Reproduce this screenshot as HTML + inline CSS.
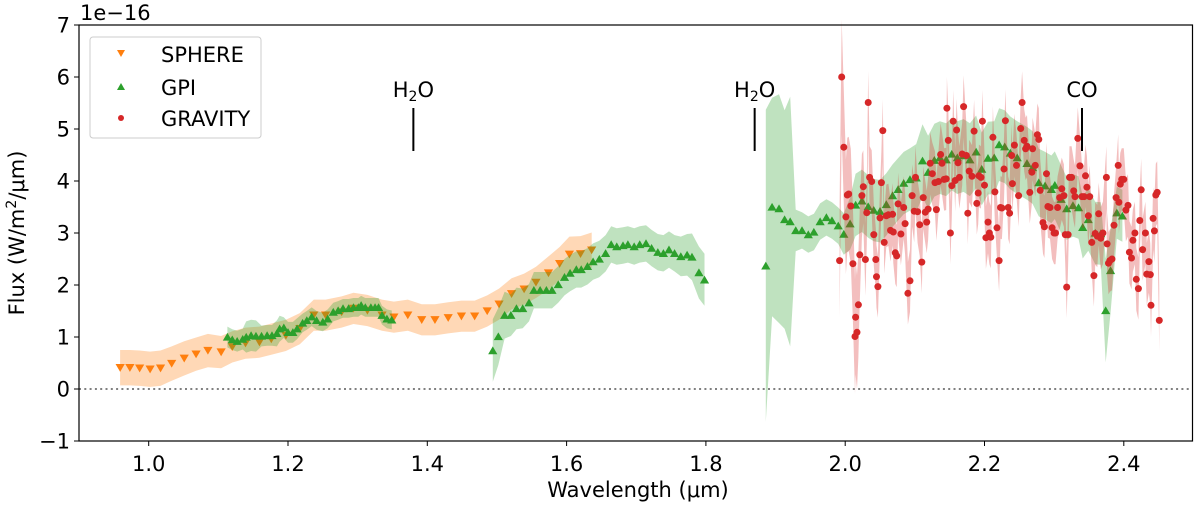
<!DOCTYPE html>
<html><head><meta charset="utf-8">
<style>
html,body{margin:0;padding:0;background:#fff;}
svg{display:block;font-family:"DejaVu Sans","Liberation Sans",sans-serif;}
</style></head>
<body>
<svg id="chart" width="1200" height="505" viewBox="0 0 1200 505" xmlns="http://www.w3.org/2000/svg">
<g id="fills"></g>
<g id="marks"></g>
<g id="axes"></g>
</svg>
<script>
// ---- data ----
const sphereWave=[0.959,0.973,0.987,1.002,1.017,1.033,1.051,1.068,1.085,1.104,1.120,1.139,1.159,1.176,1.197,1.217,1.237,1.254,1.277,1.294,1.314,1.335,1.352,1.372,1.392,1.411,1.430,1.449,1.468,1.486,1.503,1.521,1.539,1.556,1.574,1.590,1.604,1.620,1.636];
const sphereFlux=[0.41,0.41,0.40,0.38,0.40,0.49,0.59,0.67,0.74,0.71,0.81,0.88,0.90,0.96,1.03,1.16,1.42,1.42,1.48,1.55,1.51,1.42,1.38,1.42,1.33,1.33,1.37,1.40,1.40,1.50,1.63,1.83,1.92,2.05,2.23,2.41,2.59,2.60,2.67];
const sphereErr=[0.34,0.34,0.34,0.34,0.34,0.33,0.33,0.32,0.32,0.31,0.3,0.3,0.3,0.3,0.3,0.3,0.3,0.3,0.3,0.3,0.3,0.3,0.3,0.3,0.3,0.3,0.3,0.3,0.3,0.3,0.3,0.3,0.3,0.3,0.32,0.32,0.34,0.34,0.34];

const gpiJWave=[1.113,1.120,1.127,1.135,1.140,1.147,1.154,1.162,1.170,1.177,1.184,1.188,1.194,1.200,1.207,1.213,1.221,1.227,1.234,1.241,1.250,1.257,1.265,1.272,1.279,1.287,1.294,1.301,1.305,1.311,1.319,1.325,1.330,1.335,1.342,1.349];
const gpiJFlux=[1.00,0.95,0.92,0.96,1.00,1.03,1.02,1.02,1.03,1.03,1.07,1.16,1.18,1.09,1.09,1.16,1.27,1.32,1.39,1.32,1.29,1.35,1.48,1.51,1.55,1.55,1.57,1.57,1.61,1.57,1.57,1.57,1.57,1.42,1.35,1.33];
const gpiJErr=[0.2,0.2,0.2,0.2,0.3,0.3,0.3,0.2,0.2,0.2,0.25,0.25,0.2,0.2,0.2,0.2,0.18,0.18,0.18,0.18,0.18,0.18,0.18,0.18,0.18,0.18,0.18,0.18,0.18,0.18,0.18,0.18,0.18,0.18,0.18,0.18];

const gpiHWave=[1.494,1.502,1.511,1.520,1.528,1.537,1.546,1.553,1.562,1.571,1.579,1.588,1.597,1.605,1.614,1.621,1.630,1.638,1.647,1.656,1.664,1.672,1.681,1.688,1.697,1.705,1.714,1.722,1.731,1.739,1.747,1.755,1.764,1.773,1.780,1.790,1.798];
const gpiHFlux=[0.74,1.01,1.42,1.42,1.55,1.55,1.66,1.90,1.90,1.90,1.90,2.01,2.15,2.23,2.30,2.30,2.36,2.45,2.50,2.61,2.78,2.74,2.76,2.78,2.74,2.78,2.80,2.71,2.63,2.61,2.68,2.61,2.55,2.58,2.54,2.24,2.10];
const gpiHErr=[0.6,0.55,0.45,0.4,0.4,0.38,0.36,0.35,0.35,0.35,0.35,0.35,0.35,0.35,0.35,0.35,0.35,0.35,0.35,0.35,0.35,0.35,0.35,0.35,0.35,0.35,0.35,0.35,0.35,0.35,0.35,0.35,0.38,0.4,0.45,0.5,0.5];

const gpiKWave=[1.886,1.895,1.905,1.913,1.921,1.929,1.938,1.947,1.955,1.964,1.973,1.981,1.990,1.998,2.007,2.015,2.024,2.033,2.041,2.050,2.059,2.068,2.076,2.084,2.093,2.102,2.111,2.119,2.128,2.136,2.145,2.153,2.161,2.170,2.179,2.188,2.196,2.205,2.214,2.221,2.229,2.237,2.247,2.261,2.269,2.278,2.287,2.296,2.301,2.310,2.318,2.327,2.335,2.341,2.349,2.359,2.367,2.374,2.381,2.390,2.398];
const gpiKFlux=[2.37,3.50,3.47,3.26,3.22,3.05,3.05,2.97,3.02,3.22,3.30,3.24,3.14,2.98,3.18,3.54,3.62,3.51,3.44,3.42,3.55,3.72,3.84,3.96,4.03,4.06,4.39,4.17,4.40,4.45,4.41,4.52,4.45,4.49,4.41,4.56,4.23,4.44,4.45,4.70,4.66,4.54,4.45,4.34,4.26,3.97,3.91,3.84,3.92,3.65,3.47,3.53,3.49,3.11,3.26,3.00,2.99,1.51,2.28,3.39,3.33];
const gpiKErr=[3.0,2.1,2.2,2.1,2.4,0.4,0.35,0.35,0.35,0.35,0.35,0.35,0.35,0.4,0.5,0.6,0.6,0.6,0.6,0.6,0.6,0.6,0.6,0.6,0.6,0.65,0.7,0.7,0.7,0.7,0.7,0.7,0.7,0.7,0.7,0.7,0.7,0.7,0.7,0.7,0.7,0.7,0.7,0.7,0.7,0.65,0.65,0.65,0.65,0.65,0.6,0.6,0.6,0.6,0.6,0.6,0.6,1.0,0.8,0.5,0.5];

const gravWave=[1.992,1.995,1.998,2.001,2.003,2.005,2.008,2.011,2.014,2.015,2.017,2.019,2.021,2.024,2.026,2.029,2.031,2.033,2.035,2.038,2.041,2.044,2.045,2.047,2.050,2.052,2.054,2.056,2.059,2.062,2.065,2.068,2.069,2.072,2.074,2.076,2.080,2.084,2.086,2.090,2.093,2.096,2.099,2.101,2.104,2.107,2.110,2.112,2.115,2.117,2.119,2.122,2.125,2.129,2.131,2.134,2.137,2.139,2.142,2.145,2.146,2.148,2.151,2.153,2.155,2.158,2.160,2.162,2.164,2.168,2.170,2.174,2.176,2.178,2.182,2.185,2.189,2.191,2.192,2.195,2.197,2.200,2.202,2.205,2.207,2.209,2.212,2.215,2.218,2.221,2.223,2.225,2.228,2.230,2.234,2.236,2.239,2.240,2.243,2.246,2.249,2.252,2.254,2.257,2.259,2.261,2.265,2.268,2.269,2.273,2.276,2.278,2.280,2.284,2.286,2.289,2.291,2.294,2.297,2.300,2.302,2.305,2.308,2.311,2.314,2.316,2.318,2.320,2.322,2.325,2.328,2.330,2.334,2.337,2.340,2.343,2.345,2.347,2.349,2.351,2.354,2.357,2.359,2.362,2.364,2.367,2.370,2.375,2.376,2.378,2.380,2.383,2.386,2.389,2.392,2.393,2.395,2.397,2.400,2.403,2.406,2.408,2.411,2.413,2.416,2.418,2.421,2.423,2.425,2.427,2.431,2.433,2.436,2.438,2.439,2.442,2.444,2.446,2.448,2.451];
const gravFlux=[2.47,6.00,4.65,3.31,3.73,3.75,3.52,2.41,1.01,1.38,1.09,1.62,2.58,3.72,3.89,2.49,3.39,5.51,4.07,3.99,
2.97,2.49,2.16,1.97,3.29,3.97,4.97,2.82,3.33,3.35,3.05,3.36,3.02,2.62,2.56,3.56,2.98,3.49,3.18,1.84,
2.08,3.72,3.42,4.07,3.41,3.16,2.44,3.68,3.40,3.21,3.46,4.34,4.14,3.97,3.45,3.99,4.51,4.34,4.03,4.04,
5.40,4.78,3.00,3.91,5.15,4.01,4.98,4.35,4.07,4.52,5.43,4.49,3.38,4.19,4.09,4.96,3.57,3.77,4.10,4.07,
5.15,3.92,2.91,3.21,3.00,2.92,4.84,3.79,3.10,2.47,3.49,3.48,4.23,5.16,3.49,3.38,4.49,3.95,4.69,4.30,
3.72,5.01,5.51,4.78,4.62,4.67,3.78,4.17,4.62,4.30,4.89,4.80,3.82,3.20,3.12,4.14,3.51,3.49,3.10,3.00,
3.00,3.49,3.68,3.85,3.72,2.97,1.96,2.97,4.07,4.07,3.81,3.70,4.82,4.29,3.70,3.70,4.10,3.88,3.33,3.70,
2.82,2.18,2.99,2.94,3.37,2.90,3.00,4.07,2.79,2.42,2.47,2.50,3.15,3.68,4.30,3.59,3.94,4.03,4.03,3.44,
3.53,2.63,2.52,2.86,3.00,2.11,1.93,3.24,3.83,2.68,3.00,2.21,2.45,2.20,1.61,3.28,3.04,3.73,3.78,1.32];
const gravErr=[1.1,1.1,1.1,1.1,1.1,1.1,1.1,1.1,1.1,1.1,1.1,1.0,0.9,0.8,0.7,0.7];
const gravErrDefault=0.6;

const xTicks=[1.0,1.2,1.4,1.6,1.8,2.0,2.2,2.4];
const xTickLabels=["1.0","1.2","1.4","1.6","1.8","2.0","2.2","2.4"];
const yTicks=[-1,0,1,2,3,4,5,6,7];
const yTickLabels=["\u22121","0","1","2","3","4","5","6","7"];
const annotWave=[1.38,1.87,2.34];
const annotLabels=["H2O","H2O","CO"];

// ---- scales ----
const PL=79,PR=1192.5,PT=25,PB=441;
const X=w=>148.7+(w-1)*696.5;
const Y=f=>389-(f)*52;
const NS="http://www.w3.org/2000/svg";
function mk(tag,attrs,parent){const e=document.createElementNS(NS,tag);for(const k in attrs)e.setAttribute(k,attrs[k]);parent.appendChild(e);return e;}
const fills=document.getElementById('fills'),marks=document.getElementById('marks'),axes=document.getElementById('axes');

function band(wave,flux,errFn,color,name,parent){
  const n=Math.min(wave.length,flux.length);
  let up=[],lo=[];
  for(let i=0;i<n;i++){const e=errFn(i);up.push(X(wave[i]).toFixed(1)+','+Y(flux[i]+e).toFixed(1));lo.push(X(wave[i]).toFixed(1)+','+Y(flux[i]-e).toFixed(1));}
  const p=mk('polygon',{points:up.concat(lo.reverse()).join(' '),fill:color,'fill-opacity':0.3,stroke:'none'},parent);
  
  
}
function tri(x,y,down,color,parent,name){
  const s=4.6;
  const pts=down?`${x-s},${y-s*0.8} ${x+s},${y-s*0.8} ${x},${y+s*0.9}`:`${x-s},${y+s*0.8} ${x+s},${y+s*0.8} ${x},${y-s*0.9}`;
  const t=mk('polygon',{points:pts,fill:color},parent);
  
  
}
const ORANGE='#ff7f0e',GREEN='#2ca02c',RED='#d62728';

const zl=mk('line',{x1:PL,x2:PR,y1:Y(0),y2:Y(0),stroke:'#808080','stroke-width':2,'stroke-dasharray':'2,3.3'},fills);



band(sphereWave,sphereFlux,i=>sphereErr[i]??0.3,ORANGE,'sphere-error-band',fills);
const gS=mk('g',{},fills);


for(let i=0;i<Math.min(sphereWave.length,sphereFlux.length);i++)tri(X(sphereWave[i]),Y(sphereFlux[i]),true,ORANGE,gS,'sphere-point');
band(gpiJWave,gpiJFlux,i=>gpiJErr[i]??0.2,GREEN,'gpi-j-error-band',fills);
band(gpiHWave,gpiHFlux,i=>gpiHErr[i]??0.35,GREEN,'gpi-h-error-band',fills);
band(gpiKWave,gpiKFlux,i=>gpiKErr[i]??0.6,GREEN,'gpi-k-error-band',fills);
const gG=mk('g',{},fills);


[[gpiJWave,gpiJFlux],[gpiHWave,gpiHFlux],[gpiKWave,gpiKFlux]].forEach(([w,f])=>{for(let i=0;i<Math.min(w.length,f.length);i++)tri(X(w[i]),Y(f[i]),false,GREEN,gG,'gpi-point');});
band(gravWave,gravFlux,i=>gravErr[i]??gravErrDefault,RED,'gravity-error-band',fills);
const gR=mk('g',{},marks);


for(let i=0;i<Math.min(gravWave.length,gravFlux.length);i++){
  const c=mk('circle',{cx:X(gravWave[i]).toFixed(1),cy:Y(gravFlux[i]).toFixed(1),r:3.5,fill:RED},gR);
  
  
}

annotWave.forEach((w,i)=>{
  const g=mk('g',{},marks);
  
  
  mk('line',{x1:X(w),x2:X(w),y1:108,y2:151,stroke:'#000','stroke-width':2},g);
  const t=mk('text',{x:X(w),y:97,'text-anchor':'middle','font-size':21,fill:'#000'},g);
  if(annotLabels[i]==='H2O'){t.innerHTML='H<tspan font-size="14" dy="4">2</tspan><tspan dy="-4">O</tspan>';}
  else t.textContent=annotLabels[i];
});

const fr=mk('rect',{x:PL,y:PT,width:PR-PL,height:PB-PT,fill:'none',stroke:'#000','stroke-width':1.2},axes);


xTicks.forEach((v,i)=>{
  mk('line',{x1:X(v),x2:X(v),y1:PB,y2:PB+5,stroke:'#000','stroke-width':1},axes);
  const t=mk('text',{x:X(v),y:PB+30,'text-anchor':'middle','font-size':21,fill:'#000'},axes);
  t.textContent=xTickLabels[i];
  
  
});
yTicks.forEach((v,i)=>{
  mk('line',{x1:PL-5,x2:PL,y1:Y(v),y2:Y(v),stroke:'#000','stroke-width':1},axes);
  const t=mk('text',{x:PL-9,y:Y(v)+7.5,'text-anchor':'end','font-size':21,fill:'#000'},axes);
  t.textContent=yTickLabels[i];
  
  
});
</script>
<svg style="position:absolute;left:0;top:0" width="1200" height="505" xmlns="http://www.w3.org/2000/svg">
<text x="80" y="20" font-size="21" font-family="DejaVu Sans, sans-serif">1e−16</text>
<text x="638" y="497" text-anchor="middle" font-size="21" font-family="DejaVu Sans, sans-serif">Wavelength (μm)</text>
<text transform="translate(24,233) rotate(-90)" text-anchor="middle" font-size="21" font-family="DejaVu Sans, sans-serif">Flux (W/m<tspan font-size="14" dy="-8">2</tspan><tspan dy="8">/μm)</tspan></text>
<g>
<rect x="90" y="37" width="171" height="101" rx="3" fill="#fff" fill-opacity="0.8" stroke="#ccc" stroke-width="1"/>
<polygon points="117,50 125,50 121,57" fill="#ff7f0e"/>
<text x="161" y="62" font-size="21" font-family="DejaVu Sans, sans-serif">SPHERE</text>
<polygon points="117,90 125,90 121,83" fill="#2ca02c"/>
<text x="161" y="95" font-size="21" font-family="DejaVu Sans, sans-serif">GPI</text>
<circle cx="121" cy="118" r="3" fill="#d62728"/>
<text x="161" y="126" font-size="21" font-family="DejaVu Sans, sans-serif">GRAVITY</text>
</g>
</svg>
</body></html>
